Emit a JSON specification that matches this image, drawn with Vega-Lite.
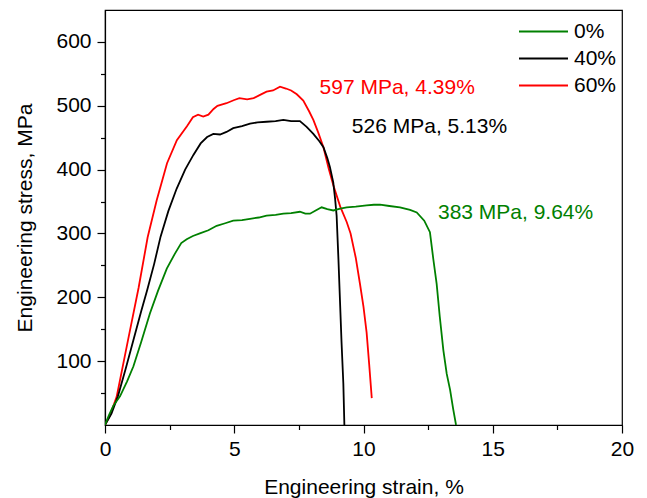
{
  "$schema": "https://vega.github.io/schema/vega-lite/v6.json",
  "width": 517,
  "height": 415,
  "autosize": "none",
  "padding": {"left": 105, "top": 10, "right": 25, "bottom": 73},
  "background": "white",
  "config": {
    "font": "Liberation Sans",
    "view": {"stroke": "black", "strokeWidth": 1.2},
    "axis": {
      "domainColor": "black", "tickColor": "black", "labelColor": "black", "titleColor": "black",
      "labelFont": "Liberation Sans", "titleFont": "Liberation Sans",
      "labelFontSize": 21, "titleFontSize": 21, "titleFontWeight": "normal",
      "grid": false, "domainWidth": 1.2, "tickWidth": 1.2, "labelOverlap": false
    },
    "legend": {"labelFont": "Liberation Sans", "labelFontSize": 21, "labelColor": "black"}
  },
  "datasets": {
    "curves": [
      {"s": "60%", "x": 0, "y": 0}, {"s": "60%", "x": 0.2, "y": 16}, {"s": "60%", "x": 0.45, "y": 44}, {"s": "60%", "x": 0.9, "y": 135}, {"s": "60%", "x": 1.3, "y": 215}, {"s": "60%", "x": 1.65, "y": 294}, {"s": "60%", "x": 2.0, "y": 352}, {"s": "60%", "x": 2.4, "y": 410}, {"s": "60%", "x": 2.78, "y": 446}, {"s": "60%", "x": 3.17, "y": 468}, {"s": "60%", "x": 3.4, "y": 482}, {"s": "60%", "x": 3.6, "y": 486}, {"s": "60%", "x": 3.8, "y": 483}, {"s": "60%", "x": 4.0, "y": 486}, {"s": "60%", "x": 4.2, "y": 495}, {"s": "60%", "x": 4.35, "y": 500}, {"s": "60%", "x": 4.7, "y": 504}, {"s": "60%", "x": 5.0, "y": 509}, {"s": "60%", "x": 5.2, "y": 512}, {"s": "60%", "x": 5.5, "y": 510}, {"s": "60%", "x": 5.75, "y": 512}, {"s": "60%", "x": 6.0, "y": 517}, {"s": "60%", "x": 6.25, "y": 522}, {"s": "60%", "x": 6.5, "y": 524}, {"s": "60%", "x": 6.77, "y": 530}, {"s": "60%", "x": 7.0, "y": 527}, {"s": "60%", "x": 7.2, "y": 524}, {"s": "60%", "x": 7.42, "y": 518}, {"s": "60%", "x": 7.67, "y": 508}, {"s": "60%", "x": 7.9, "y": 491}, {"s": "60%", "x": 8.06, "y": 478}, {"s": "60%", "x": 8.25, "y": 458}, {"s": "60%", "x": 8.45, "y": 435}, {"s": "60%", "x": 8.65, "y": 402}, {"s": "60%", "x": 8.83, "y": 376}, {"s": "60%", "x": 9.1, "y": 342}, {"s": "60%", "x": 9.35, "y": 318}, {"s": "60%", "x": 9.5, "y": 300}, {"s": "60%", "x": 9.7, "y": 262}, {"s": "60%", "x": 9.86, "y": 222}, {"s": "60%", "x": 10.0, "y": 185}, {"s": "60%", "x": 10.12, "y": 145}, {"s": "60%", "x": 10.22, "y": 95}, {"s": "60%", "x": 10.32, "y": 42},
      {"s": "40%", "x": 0, "y": 0}, {"s": "40%", "x": 0.25, "y": 18}, {"s": "40%", "x": 0.5, "y": 45}, {"s": "40%", "x": 0.8, "y": 88}, {"s": "40%", "x": 1.1, "y": 133}, {"s": "40%", "x": 1.4, "y": 178}, {"s": "40%", "x": 1.63, "y": 211}, {"s": "40%", "x": 1.9, "y": 252}, {"s": "40%", "x": 2.15, "y": 295}, {"s": "40%", "x": 2.45, "y": 335}, {"s": "40%", "x": 2.77, "y": 370}, {"s": "40%", "x": 3.1, "y": 400}, {"s": "40%", "x": 3.42, "y": 423}, {"s": "40%", "x": 3.7, "y": 441}, {"s": "40%", "x": 3.95, "y": 451}, {"s": "40%", "x": 4.19, "y": 456}, {"s": "40%", "x": 4.45, "y": 455}, {"s": "40%", "x": 4.7, "y": 459}, {"s": "40%", "x": 4.96, "y": 465}, {"s": "40%", "x": 5.3, "y": 468}, {"s": "40%", "x": 5.61, "y": 472}, {"s": "40%", "x": 5.9, "y": 474}, {"s": "40%", "x": 6.25, "y": 475}, {"s": "40%", "x": 6.6, "y": 476}, {"s": "40%", "x": 6.9, "y": 478}, {"s": "40%", "x": 7.2, "y": 476}, {"s": "40%", "x": 7.54, "y": 476}, {"s": "40%", "x": 7.8, "y": 467}, {"s": "40%", "x": 8.06, "y": 456}, {"s": "40%", "x": 8.3, "y": 444}, {"s": "40%", "x": 8.45, "y": 435}, {"s": "40%", "x": 8.6, "y": 418}, {"s": "40%", "x": 8.7, "y": 404}, {"s": "40%", "x": 8.83, "y": 380}, {"s": "40%", "x": 8.9, "y": 355}, {"s": "40%", "x": 8.96, "y": 328}, {"s": "40%", "x": 9.03, "y": 260}, {"s": "40%", "x": 9.09, "y": 195}, {"s": "40%", "x": 9.15, "y": 130}, {"s": "40%", "x": 9.22, "y": 65}, {"s": "40%", "x": 9.26, "y": 0},
      {"s": "0%", "x": 0, "y": 0}, {"s": "0%", "x": 0.15, "y": 15}, {"s": "0%", "x": 0.32, "y": 30}, {"s": "0%", "x": 0.58, "y": 45}, {"s": "0%", "x": 0.85, "y": 68}, {"s": "0%", "x": 1.1, "y": 92}, {"s": "0%", "x": 1.4, "y": 130}, {"s": "0%", "x": 1.74, "y": 175}, {"s": "0%", "x": 2.05, "y": 210}, {"s": "0%", "x": 2.39, "y": 245}, {"s": "0%", "x": 2.7, "y": 268}, {"s": "0%", "x": 2.95, "y": 285}, {"s": "0%", "x": 3.16, "y": 291}, {"s": "0%", "x": 3.4, "y": 296}, {"s": "0%", "x": 3.67, "y": 300}, {"s": "0%", "x": 4.0, "y": 305}, {"s": "0%", "x": 4.32, "y": 312}, {"s": "0%", "x": 4.65, "y": 316}, {"s": "0%", "x": 4.96, "y": 320}, {"s": "0%", "x": 5.3, "y": 321}, {"s": "0%", "x": 5.61, "y": 323}, {"s": "0%", "x": 5.95, "y": 325}, {"s": "0%", "x": 6.25, "y": 328}, {"s": "0%", "x": 6.6, "y": 329}, {"s": "0%", "x": 6.9, "y": 331}, {"s": "0%", "x": 7.2, "y": 332}, {"s": "0%", "x": 7.54, "y": 334}, {"s": "0%", "x": 7.75, "y": 331}, {"s": "0%", "x": 7.93, "y": 331}, {"s": "0%", "x": 8.15, "y": 336}, {"s": "0%", "x": 8.38, "y": 341}, {"s": "0%", "x": 8.6, "y": 338}, {"s": "0%", "x": 8.83, "y": 336}, {"s": "0%", "x": 9.1, "y": 339}, {"s": "0%", "x": 9.35, "y": 341}, {"s": "0%", "x": 9.7, "y": 342}, {"s": "0%", "x": 10.12, "y": 344}, {"s": "0%", "x": 10.4, "y": 345}, {"s": "0%", "x": 10.64, "y": 345}, {"s": "0%", "x": 11.0, "y": 343}, {"s": "0%", "x": 11.41, "y": 341}, {"s": "0%", "x": 11.8, "y": 337}, {"s": "0%", "x": 12.06, "y": 333}, {"s": "0%", "x": 12.35, "y": 320}, {"s": "0%", "x": 12.57, "y": 302}, {"s": "0%", "x": 12.7, "y": 260}, {"s": "0%", "x": 12.83, "y": 221}, {"s": "0%", "x": 12.95, "y": 170}, {"s": "0%", "x": 13.09, "y": 117}, {"s": "0%", "x": 13.22, "y": 80}, {"s": "0%", "x": 13.35, "y": 55}, {"s": "0%", "x": 13.47, "y": 25}, {"s": "0%", "x": 13.58, "y": 0}
    ],
    "labels": [
      {"s": "60%", "x": 8.3, "y": 528, "t": "597 MPa, 4.39%"},
      {"s": "40%", "x": 9.55, "y": 467, "t": "526 MPa, 5.13%"},
      {"s": "0%", "x": 12.88, "y": 332, "t": "383 MPa, 9.64%"}
    ]
  },
  "resolve": {"axis": {"x": "independent", "y": "independent"}},
  "layer": [
    {
      "data": {"name": "curves"},
      "mark": {"type": "line", "strokeWidth": 1.8, "clip": true},
      "encoding": {
        "x": {
          "field": "x", "type": "quantitative",
          "scale": {"domain": [0, 20], "nice": false, "zero": false},
          "axis": {
            "orient": "bottom",
            "title": "Engineering strain, %",
            "values": [0, 5, 10, 15, 20],
            "tickSize": 8, "labelPadding": 5, "titlePadding": 17, "labelFlush": false
          }
        },
        "y": {
          "field": "y", "type": "quantitative",
          "scale": {"domain": [0, 650], "nice": false},
          "axis": {
            "orient": "left",
            "title": "Engineering stress, MPa",
            "values": [100, 200, 300, 400, 500, 600],
            "tickSize": 8, "labelPadding": 6, "titlePadding": 20
          }
        },
        "color": {
          "field": "s", "type": "nominal",
          "scale": {"domain": ["0%", "40%", "60%"], "range": ["#008000", "#000000", "#ff0000"]},
          "legend": {
            "title": null, "orient": "none", "legendX": 413, "legendY": 8,
            "symbolType": "stroke", "symbolSize": 2400, "symbolStrokeWidth": 1.8,
            "labelOffset": 5, "rowPadding": 0, "clipHeight": 27
          }
        }
      }
    },
    {
      "data": {"name": "labels"},
      "mark": {"type": "text", "align": "left", "baseline": "middle", "fontSize": 21, "font": "Liberation Sans"},
      "encoding": {
        "x": {
          "field": "x", "type": "quantitative",
          "axis": {
            "orient": "bottom", "title": null, "labels": false, "domain": false,
            "values": [2.5, 7.5, 12.5, 17.5], "tickSize": 4.5
          }
        },
        "y": {
          "field": "y", "type": "quantitative",
          "axis": {
            "orient": "left", "title": null, "labels": false, "domain": false,
            "values": [50, 150, 250, 350, 450, 550], "tickSize": 4.5
          }
        },
        "text": {"field": "t"},
        "color": {"field": "s", "type": "nominal", "legend": null}
      }
    }
  ]
}
